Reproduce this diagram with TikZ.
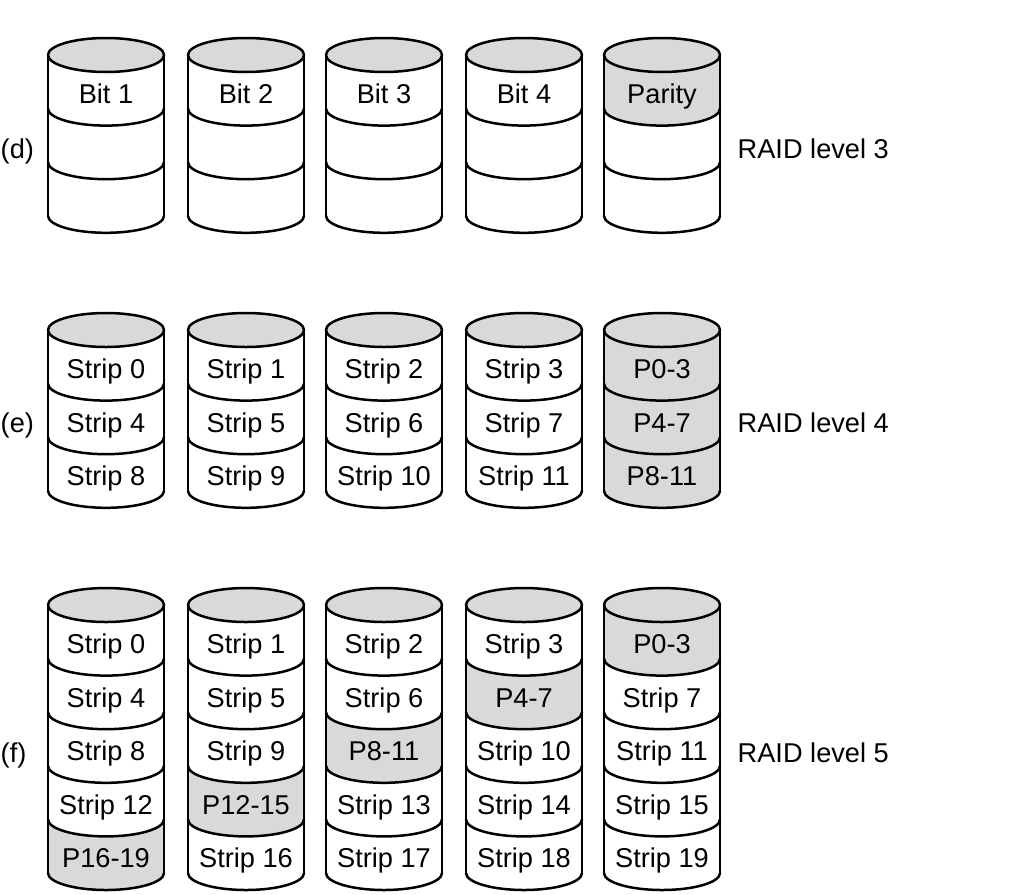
\documentclass[tikz,border=0pt]{standalone}
\usepackage{fontspec}
\setmainfont{Liberation Sans}
\definecolor{diskgray}{RGB}{217,217,217}
\def\segh{53.6}
\tikzset{
  disk line/.style={line width=2.5pt, draw=black, line cap=round, line join=round},
  lbl/.style={inner sep=0pt, anchor=base, font=\fontsize{27.2}{30}\selectfont},
  rowlbl/.style={inner sep=0pt, anchor=base west, font=\fontsize{27.2}{30}\selectfont}
}
% #1 cx, #2 y0 (px down), #3 number of segments, #4 list of fills
\newcommand\drawdisk[4]{%
  \foreach \f [count=\i from 0] in {#4} {
    \pgfmathsetmacro\yy{#2+\i*\segh}
    \fill[\f] (#1-58,-\yy) arc[start angle=180,end angle=360,x radius=58pt,y radius=17pt]
      -- ++(0,-\segh) arc[start angle=360,end angle=180,x radius=58pt,y radius=17pt] -- cycle;
  }
  \foreach \i in {1,...,#3} {
    \pgfmathsetmacro\yy{#2+\i*\segh}
    \draw[disk line] (#1-58,-\yy) arc[start angle=180,end angle=360,x radius=58pt,y radius=17pt];
  }
  \pgfmathsetmacro\yb{#2+#3*\segh}
  \draw[disk line] (#1-58,-#2) -- (#1-58,-\yb) (#1+58,-#2) -- (#1+58,-\yb);
  \filldraw[disk line, fill=diskgray] (#1,-#2) ellipse[x radius=58pt, y radius=17pt];
}
\begin{document}
\begin{tikzpicture}[x=1pt,y=1pt]
\useasboundingbox (0,0) rectangle (1024,-894);
\fill[white] (0,0) rectangle (1024,-894);

% ---------- (d) RAID level 3 ----------
\drawdisk{106}{55}{3}{white,white,white}
\drawdisk{246}{55}{3}{white,white,white}
\drawdisk{384}{55}{3}{white,white,white}
\drawdisk{524}{55}{3}{white,white,white}
\drawdisk{662}{55}{3}{diskgray,white,white}
\foreach \x/\t [count=\c] in {106/Bit 1,246/Bit 2,384/Bit 3,524/Bit 4,662/Parity}
  \node[lbl] (d\c) at (\x,-103.5) {\t};
\node[rowlbl] (dlabel) at (0.5,-158) {(d)};
\node[rowlbl] (dtitle) at (737.5,-158) {RAID level 3};

% ---------- (e) RAID level 4 ----------
\drawdisk{106}{330}{3}{white,white,white}
\drawdisk{246}{330}{3}{white,white,white}
\drawdisk{384}{330}{3}{white,white,white}
\drawdisk{524}{330}{3}{white,white,white}
\drawdisk{662}{330}{3}{diskgray,diskgray,diskgray}
\foreach \x/\a/\b/\cc [count=\c] in {106/Strip 0/Strip 4/Strip 8,
    246/Strip 1/Strip 5/Strip 9,
    384/Strip 2/Strip 6/Strip 10,
    524/Strip 3/Strip 7/Strip 11,
    662/P0-3/P4-7/P8-11} {
  \node[lbl] (e\c a) at (\x,-378.5) {\a};
  \node[lbl] (e\c b) at (\x,-378.5-\segh) {\b};
  \node[lbl] (e\c c) at (\x,-378.5-2*\segh) {\cc};
}
\node[rowlbl] (elabel) at (0.5,-432) {(e)};
\node[rowlbl] (etitle) at (737.5,-432) {RAID level 4};

% ---------- (f) RAID level 5 ----------
\drawdisk{106}{605}{5}{white,white,white,white,diskgray}
\drawdisk{246}{605}{5}{white,white,white,diskgray,white}
\drawdisk{384}{605}{5}{white,white,diskgray,white,white}
\drawdisk{524}{605}{5}{white,diskgray,white,white,white}
\drawdisk{662}{605}{5}{diskgray,white,white,white,white}
\foreach \x/\a/\b/\cc/\dd/\ee [count=\c] in {106/Strip 0/Strip 4/Strip 8/Strip 12/P16-19,
    246/Strip 1/Strip 5/Strip 9/P12-15/Strip 16,
    384/Strip 2/Strip 6/P8-11/Strip 13/Strip 17,
    524/Strip 3/P4-7/Strip 10/Strip 14/Strip 18,
    662/P0-3/Strip 7/Strip 11/Strip 15/Strip 19} {
  \node[lbl] (f\c a) at (\x,-653.5) {\a};
  \node[lbl] (f\c b) at (\x,-653.5-\segh) {\b};
  \node[lbl] (f\c c) at (\x,-653.5-2*\segh) {\cc};
  \node[lbl] (f\c d) at (\x,-653.5-3*\segh) {\dd};
  \node[lbl] (f\c e) at (\x,-653.5-4*\segh) {\ee};
}
\node[rowlbl] (flabel) at (0.5,-762) {(f)};
\node[rowlbl] (ftitle) at (737.5,-762) {RAID level 5};
\end{tikzpicture}
\end{document}
